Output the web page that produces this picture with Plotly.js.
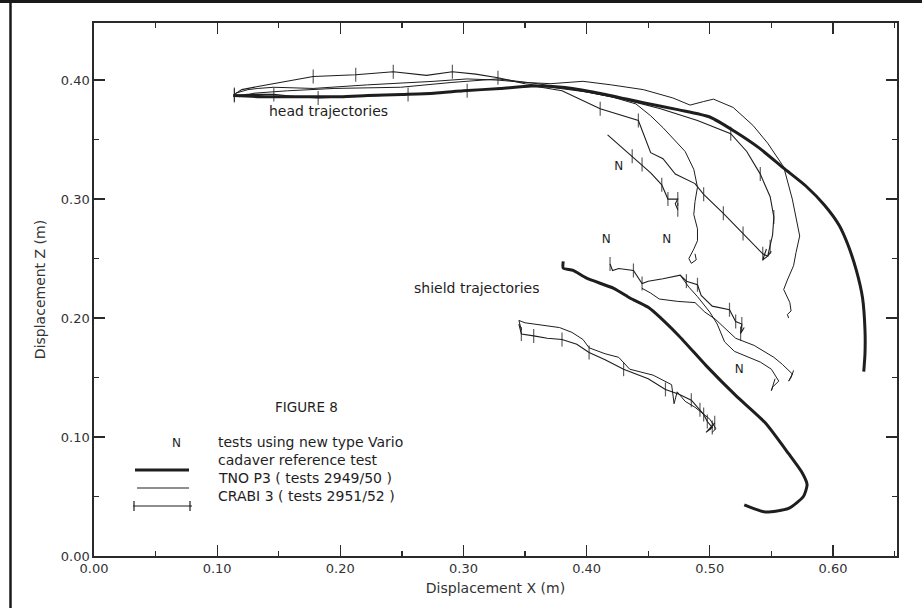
<!DOCTYPE html>
<html>
<head>
<meta charset="utf-8">
<script src="https://cdn.plot.ly/plotly-3.0.1.min.js"></script>
<style>html,body{margin:0;padding:0;background:#fff;}#chart{width:922px;height:608px;}</style>
</head>
<body>
<div id="chart"></div>
<script>
// ---------- DATA (Displacement X, Displacement Z in metres) ----------
// Head trajectories
const headCadaverX = [0.113,0.14,0.168,0.2,0.222,0.25,0.276,0.30,0.33,0.355,0.38,0.41,0.446,0.475,0.50,0.52,0.54,0.56,0.578,0.593,0.605,0.612,0.619,0.624,0.626,0.626,0.625];
const headCadaverZ = [0.387,0.386,0.386,0.386,0.387,0.388,0.389,0.391,0.393,0.395,0.394,0.389,0.381,0.375,0.369,0.357,0.343,0.326,0.311,0.295,0.278,0.262,0.24,0.217,0.19,0.17,0.155];

const headTnoAX = [0.115,0.125,0.133,0.146,0.178,0.222,0.276,0.303,0.328,0.35,0.371,0.397,0.42,0.446,0.47,0.484,0.495,0.503,0.519,0.535,0.547,0.56,0.567,0.573,0.57,0.568,0.563,0.56,0.565,0.566,0.563,0.564];
const headTnoAZ = [0.389,0.392,0.393,0.394,0.393,0.396,0.399,0.401,0.40,0.398,0.397,0.399,0.396,0.392,0.385,0.379,0.382,0.384,0.377,0.362,0.347,0.327,0.30,0.269,0.255,0.244,0.232,0.224,0.213,0.206,0.203,0.20];

const headTnoBX = [0.118,0.13,0.157,0.195,0.249,0.29,0.328,0.36,0.39,0.42,0.44,0.452,0.462,0.472,0.48,0.487,0.49,0.488,0.487,0.49,0.49,0.487,0.483,0.485,0.489,0.488];
const headTnoBZ = [0.386,0.389,0.391,0.393,0.394,0.398,0.401,0.397,0.392,0.386,0.38,0.37,0.36,0.349,0.34,0.325,0.31,0.298,0.287,0.275,0.265,0.258,0.25,0.246,0.249,0.254];

const headCrabiAX = [0.114,0.12,0.133,0.15,0.178,0.2125,0.243,0.27,0.291,0.31,0.328,0.35,0.37,0.40,0.43,0.46,0.49,0.517,0.53,0.541,0.549,0.552,0.551,0.549,0.547,0.55];
const headCrabiAZ = [0.388,0.392,0.3946,0.398,0.403,0.4045,0.407,0.404,0.407,0.405,0.402,0.397,0.394,0.39,0.384,0.376,0.366,0.355,0.34,0.321,0.302,0.285,0.27,0.26,0.252,0.256];
const headCrabiAMarks = [0,4,5,6,8,10,17,19,21,23];

const headCrabiBX = [0.114,0.125,0.146,0.165,0.182,0.211,0.255,0.303,0.33,0.357,0.38,0.411,0.442,0.452,0.462,0.472,0.488,0.495,0.511,0.527,0.538,0.543,0.547,0.543,0.546];
const headCrabiBZ = [0.387,0.388,0.388,0.386,0.385,0.386,0.388,0.391,0.393,0.395,0.391,0.376,0.366,0.339,0.334,0.321,0.313,0.304,0.288,0.271,0.26,0.254,0.252,0.249,0.258];
const headCrabiBMarks = [0,2,4,6,7,11,12,17,18,19,21];

const headCrabiNX = [0.417,0.427,0.437,0.445,0.452,0.461,0.466,0.474,0.472,0.474];
const headCrabiNZ = [0.354,0.345,0.336,0.329,0.322,0.312,0.300,0.300,0.296,0.291];
const headCrabiNMarks = [2,3,5,6,7,9];

// Shield trajectories
const shieldCadaverX = [0.381,0.381,0.389,0.40,0.422,0.4355,0.45,0.474,0.497,0.521,0.545,0.564,0.575,0.579,0.576,0.564,0.545,0.528];
const shieldCadaverZ = [0.2476,0.242,0.240,0.2335,0.225,0.2167,0.209,0.186,0.16,0.135,0.112,0.086,0.07,0.06,0.05,0.04,0.037,0.043];

const shieldTno1X = [0.347,0.345,0.350,0.357,0.368,0.378,0.388,0.397,0.402,0.415,0.426,0.435,0.454,0.469,0.471,0.4735,0.48,0.488,0.5,0.505,0.502];
const shieldTno1Z = [0.190,0.198,0.196,0.195,0.193,0.192,0.188,0.182,0.175,0.170,0.167,0.157,0.152,0.144,0.128,0.138,0.130,0.125,0.115,0.107,0.104];

const shieldCrabi1X = [0.345,0.347,0.357,0.368,0.380,0.392,0.402,0.415,0.43,0.45,0.464,0.475,0.485,0.492,0.495,0.498,0.502,0.497,0.504,0.5];
const shieldCrabi1Z = [0.195,0.1866,0.185,0.183,0.182,0.178,0.171,0.165,0.157,0.149,0.140,0.136,0.131,0.123,0.119,0.113,0.108,0.104,0.112,0.106];
const shieldCrabi1Marks = [1,2,4,6,8,10,12,13,14,15,16,18];

const shieldCrabi2X = [0.419,0.421,0.426,0.438,0.445,0.45,0.462,0.476,0.481,0.49,0.493,0.502,0.516,0.521,0.526,0.525,0.528];
const shieldCrabi2Z = [0.2455,0.240,0.2417,0.240,0.229,0.231,0.233,0.236,0.231,0.228,0.219,0.21,0.207,0.197,0.195,0.187,0.192];
const shieldCrabi2Marks = [0,3,4,8,9,12,13,14,15];

const shieldTno2aX = [0.445,0.452,0.459,0.474,0.488,0.496,0.5045,0.512,0.521,0.536,0.545,0.552,0.559,0.567,0.564,0.566,0.568];
const shieldTno2aZ = [0.225,0.221,0.216,0.214,0.213,0.205,0.199,0.192,0.183,0.177,0.171,0.167,0.161,0.153,0.147,0.150,0.156];

const shieldTno2bX = [0.476,0.483,0.49,0.5,0.506,0.512,0.52,0.53,0.541,0.55,0.556,0.551,0.55,0.553];
const shieldTno2bZ = [0.236,0.226,0.218,0.205,0.195,0.180,0.172,0.168,0.163,0.157,0.147,0.142,0.139,0.149];

// Tick values
const xTickVals = [0.00,0.10,0.20,0.30,0.40,0.50,0.60];
const yTickVals = [0.00,0.10,0.20,0.30,0.40];

// "N" labels placed in data space
const nLabelX = [0.426,0.416,0.465,0.524];
const nLabelZ = [0.327,0.266,0.2655,0.156];

// ---------- STYLE ----------
const INK = '#1e1e1e';
const FONT = 'DejaVu Sans, Arial, sans-serif';

function sizesFor(n, marks){ const s = new Array(n).fill(0); marks.forEach(i=>{ s[i]=10; }); return s; }

function thick(x,y){ return {x:x,y:y,type:'scatter',mode:'lines',line:{color:INK,width:3,shape:'spline',smoothing:0.6},hoverinfo:'skip',showlegend:false}; }
function thin(x,y){ return {x:x,y:y,type:'scatter',mode:'lines',line:{color:INK,width:1},hoverinfo:'skip',showlegend:false}; }
function crabi(x,y,marks){ return {x:x,y:y,type:'scatter',mode:'lines+markers',line:{color:INK,width:1.1},
  marker:{symbol:'line-ns',size:sizesFor(x.length,marks),line:{color:INK,width:1.2},color:INK},hoverinfo:'skip',showlegend:false}; }

const traces = [
  thick(headCadaverX, headCadaverZ),
  thin(headTnoAX, headTnoAZ),
  thin(headTnoBX, headTnoBZ),
  crabi(headCrabiAX, headCrabiAZ, headCrabiAMarks),
  crabi(headCrabiBX, headCrabiBZ, headCrabiBMarks),
  crabi(headCrabiNX, headCrabiNZ, headCrabiNMarks),
  thick(shieldCadaverX, shieldCadaverZ),
  thin(shieldTno1X, shieldTno1Z),
  crabi(shieldCrabi1X, shieldCrabi1Z, shieldCrabi1Marks),
  crabi(shieldCrabi2X, shieldCrabi2Z, shieldCrabi2Marks),
  thin(shieldTno2aX, shieldTno2aZ),
  thin(shieldTno2bX, shieldTno2bZ),
  {x:nLabelX,y:nLabelZ,type:'scatter',mode:'text',text:nLabelX.map(()=>'N'),textfont:{family:FONT,size:12,color:INK},hoverinfo:'skip',showlegend:false}
];

// legend drawn in pixel space -> paper coordinates
const L=94, R=897, T=23, B=556;
const px = v => (v-L)/(R-L);
const py = v => (B-v)/(B-T);

const legendRows = [
  {y:452, text:'tests using new type Vario'},
  {y:470, text:'cadaver reference test'},
  {y:488, text:'TNO P3 ( tests 2949/50 )'},
  {y:506, text:'CRABI 3 ( tests 2951/52 )'}
];

const shapes = [
  // scanned page border
  {type:'line',xref:'paper',yref:'paper',x0:px(-10),x1:px(930),y0:py(1.5),y1:py(1.5),line:{color:'#1a1a1a',width:3}},
  {type:'line',xref:'paper',yref:'paper',x0:px(10.5),x1:px(10.5),y0:py(0),y1:py(612),line:{color:'#1a1a1a',width:2.5}},
  // legend samples
  {type:'line',xref:'paper',yref:'paper',x0:px(135),x1:px(189),y0:py(470),y1:py(470),line:{color:INK,width:3}},
  {type:'line',xref:'paper',yref:'paper',x0:px(137),x1:px(189),y0:py(488),y1:py(488),line:{color:INK,width:1}},
  {type:'line',xref:'paper',yref:'paper',x0:px(133),x1:px(192),y0:py(506),y1:py(506),line:{color:INK,width:1.1}},
  {type:'line',xref:'paper',yref:'paper',x0:px(134),x1:px(134),y0:py(501),y1:py(511),line:{color:INK,width:1.2}},
  {type:'line',xref:'paper',yref:'paper',x0:px(190),x1:px(190),y0:py(501),y1:py(511),line:{color:INK,width:1.2}}
];

const annotations = [
  {xref:'x',yref:'y',x:0.19,y:0.374,text:'head trajectories',showarrow:false,font:{family:FONT,size:14,color:INK}},
  {xref:'x',yref:'y',x:0.311,y:0.225,text:'shield trajectories',showarrow:false,font:{family:FONT,size:14,color:INK}},
  {xref:'paper',yref:'paper',x:px(273),y:py(417),text:'FIGURE 8',showarrow:false,font:{family:FONT,size:13.5,color:INK}},
  {xref:'paper',yref:'paper',x:px(170),y:py(452),text:'N',showarrow:false,font:{family:FONT,size:12,color:INK}}
].concat(legendRows.map(r=>({xref:'paper',yref:'paper',x:px(216),y:py(r.y),xanchor:'left',text:r.text,showarrow:false,font:{family:FONT,size:14,color:INK}})));

const axisCommon = {
  showline:true, linecolor:'#2a2a2a', linewidth:1.6, mirror:'ticks',
  ticks:'inside', ticklen:11, tickwidth:1.3, tickcolor:'#2a2a2a',
  showgrid:false, zeroline:false, tickformat:'.2f',
  tickfont:{family:FONT,size:13,color:'#333'},
  minor:{ticks:'inside',ticklen:5,tickwidth:1.2,tickcolor:'#2a2a2a',dtick:0.05,showgrid:false}
};

const layout = {
  width:922, height:608,
  margin:{l:L,r:922-R,t:T,b:608-B},
  paper_bgcolor:'#fff', plot_bgcolor:'#fff',
  showlegend:false,
  xaxis:Object.assign({},axisCommon,{range:[0,0.652],tickvals:xTickVals,
    title:{text:'Displacement X (m)',font:{family:FONT,size:14,color:'#333'},standoff:8}}),
  yaxis:Object.assign({},axisCommon,{range:[0,0.448],tickvals:yTickVals,
    title:{text:'Displacement Z (m)',font:{family:FONT,size:14,color:'#333'},standoff:12}}),
  shapes:shapes,
  annotations:annotations
};

Plotly.newPlot('chart', traces, layout, {staticPlot:true, displayModeBar:false});
</script>
</body>
</html>
